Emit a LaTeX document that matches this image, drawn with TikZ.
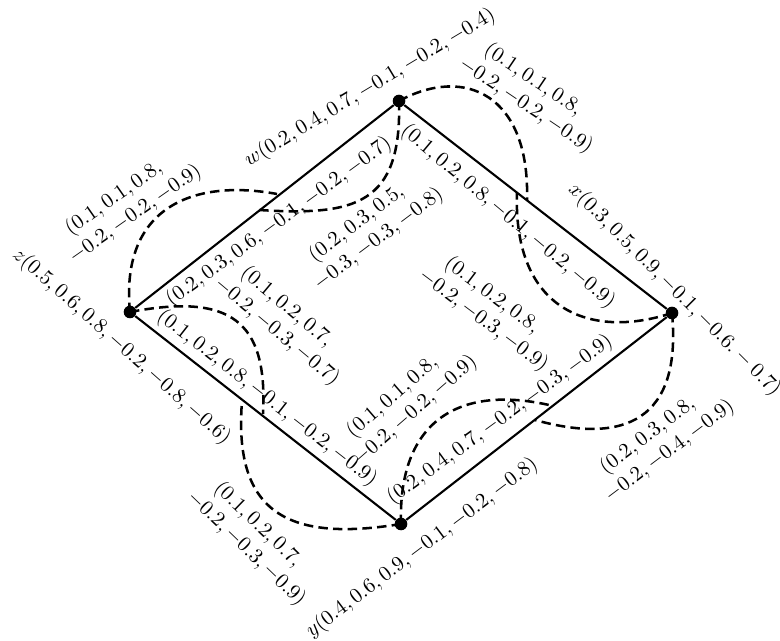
\documentclass[tikz,border=0pt]{standalone}
\newcommand\firstline[1]{$#1$\kern8pt}
\begin{document}
\begin{tikzpicture}[x=0.476pt,y=-0.476pt,
  vdot/.style={circle,fill=black,inner sep=0pt,minimum size=6pt},
  sideline/.style={line width=1pt},
  loopline/.style={line width=1.2pt,dash pattern=on 4.5pt off 2.5pt},
  lab/.style={inner sep=0pt},
  twolab/.style={inner sep=0pt,align=center}]
\useasboundingbox (0,0) rectangle (780,641);
% vertices
\node[vdot] (w) at (399,101) {};
\node[vdot] (x) at (672,313) {};
\node[vdot] (y) at (401,524) {};
\node[vdot] (z) at (130,312) {};
% edges
\draw[sideline] (w) -- (x);
\draw[sideline] (x) -- (y);
\draw[sideline] (y) -- (z);
\draw[sideline] (z) -- (w);
% arc ends
\coordinate (wzA) at (277,194);
\coordinate (wzB) at (259,210);
\coordinate (wxA) at (527,200);
\coordinate (wxB) at (517,193);
\coordinate (xyA) at (535,420);
\coordinate (xyB) at (549,405);
\coordinate (zyA) at (263,414);
\coordinate (zyB) at (242,401);
% dashed arcs
\draw[loopline] (z.center) .. controls (230,293) and (268,320) .. (zyA);
\draw[loopline] (y.center) .. controls (290,542) and (233,515) .. (zyB);
\draw[loopline] (z.center) .. controls (120,210) and (190,178) .. (wzA);
\draw[loopline] (w.center) .. controls (402,205) and (355,216) .. (wzB);
\draw[loopline] (w.center) .. controls (465,65) and (530,95) .. (wxA);
\draw[loopline] (x.center) .. controls (590,340) and (513,310) .. (wxB);
\draw[loopline] (x.center) .. controls (682,420) and (625,445) .. (xyA);
\draw[loopline] (y.center) .. controls (398,420) and (460,385) .. (xyB);
% vertex labels
\node[lab,rotate=31] (lw) at (370,88) {$w(0.2, 0.4, 0.7, -0.1, -0.2, -0.4)$};
\node[lab,rotate=-45] (lx) at (674.5,290) {$x(0.3, 0.5, 0.9, -0.1, -0.6. -0.7)$};
\node[lab,rotate=37] (ly) at (422,548) {$y(0.4, 0.6, 0.9, -0.1, -0.2, -0.8)$};
\node[lab,rotate=-41.6] (lz) at (121.5,346.5) {$z(0.5, 0.6, 0.8, -0.2, -0.8, -0.6)$};
% edge labels
\node[lab,rotate=-40] (ewx) at (508,216.5) {$(0.1, 0.2, 0.8, -0.1, -0.2, -0.9)$};
\node[lab,rotate=36] (ewz) at (279,222) {$(0.2, 0.3, 0.6, -0.1, -0.2, -0.7)$};
\node[lab,rotate=-38] (ezy) at (267,398) {$(0.1, 0.2, 0.8, -0.1, -0.2, -0.9)$};
\node[lab,rotate=36] (eyx) at (500,420) {$(0.2, 0.4, 0.7, -0.2, -0.3, -0.9)$};
% arc labels
\node[twolab,rotate=-34] (t1) at (533,95) {\firstline{(0.1, 0.1, 0.8,}\\$-0.2, -0.2, -0.9)$};
\node[twolab,rotate=35] (t2) at (128,204) {\firstline{(0.1, 0.1, 0.8,}\\$-0.2, -0.2, -0.9)$};
\node[twolab,rotate=37] (t3) at (371,229) {\firstline{(0.2, 0.3, 0.5,}\\$-0.3, -0.3, -0.8)$};
\node[twolab,rotate=-40] (t4) at (285,322) {\firstline{(0.1, 0.2, 0.7,}\\$-0.2, -0.3, -0.7)$};
\node[twolab,rotate=-37] (t5) at (491,310.5) {\firstline{(0.1, 0.2, 0.8,}\\$-0.2, -0.3, -0.9)$};
\node[twolab,rotate=41] (t6) at (407,401) {\firstline{(0.1, 0.1, 0.8,}\\$-0.2, -0.2, -0.9)$};
\node[twolab,rotate=37] (t7) at (662,441) {\firstline{(0.2, 0.3, 0.8,}\\$-0.2, -0.4, -0.9)$};
\node[twolab,rotate=-44] (t8) at (255,539.5) {\firstline{(0.1, 0.2, 0.7,}\\$-0.2, -0.3, -0.9)$};
\end{tikzpicture}
\end{document}
